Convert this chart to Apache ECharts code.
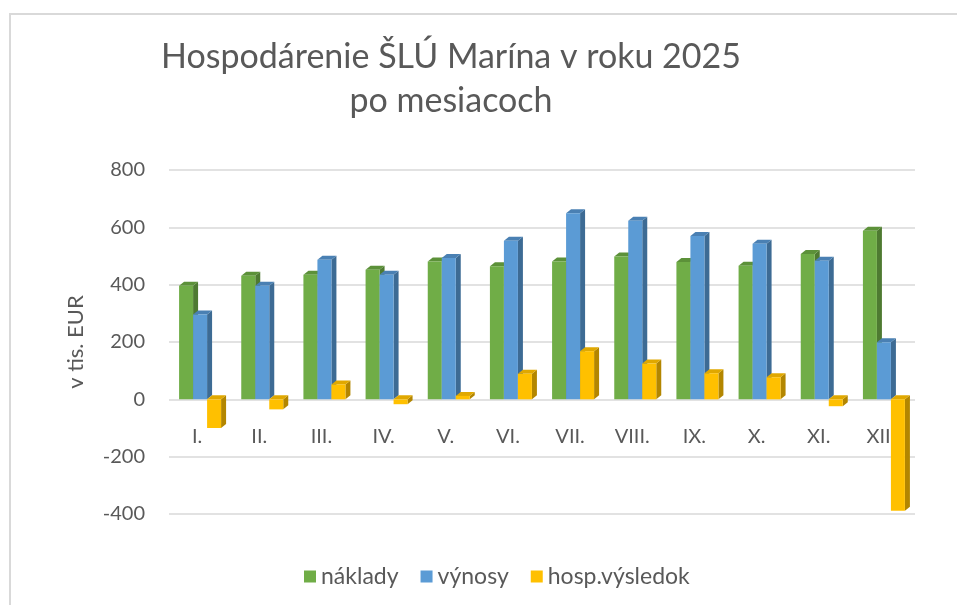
<!DOCTYPE html>
<html>
<head>
<meta charset="utf-8">
<script src="https://cdn.jsdelivr.net/npm/echarts@6/dist/echarts.min.js"></script>
<style>
  html, body { margin: 0; padding: 0; background: #fff; }
  #chart { width: 957px; height: 605px; }
</style>
</head>
<body>
<div id="chart"></div>
<script>
const months = ['I.', 'II.', 'III.', 'IV.', 'V.', 'VI.', 'VII.', 'VIII.', 'IX.', 'X.', 'XI.', 'XII.']
const naklady = [396, 431, 435, 452, 481, 464, 481, 498, 479, 466, 507, 588]
const vynosy = [296, 396, 487, 435, 493, 553, 649, 623, 570, 543, 483, 199]
const vysledok = [-100, -35, 52, -17, 12, 89, 168, 125, 91, 77, -24, -389]
const yTicks = [-400, -200, 0, 200, 400, 600, 800]

const BAR_W = 14
const DX = 5
const DY = 4

// kvádre ako v Exceli: predná stena, bok a vrch
const makeRender = (slot, front, side, top) => (params, api) => {
  const idx = api.value(0)
  const val = api.value(1)
  const p0 = api.coord([idx, 0])
  const p1 = api.coord([idx, val])
  const x = p0[0] + slot * BAR_W - BAR_W / 2
  const yUp = Math.min(p0[1], p1[1])
  const yDown = Math.max(p0[1], p1[1])
  const h = Math.max(yDown - yUp, 1)
  return {
    type: 'group',
    children: [
      {
        type: 'polygon',
        shape: { points: [[x + BAR_W, yUp], [x + BAR_W + DX, yUp - DY], [x + BAR_W + DX, yUp + h - DY], [x + BAR_W, yUp + h]] },
        style: { fill: side },
      },
      {
        type: 'polygon',
        shape: { points: [[x, yUp], [x + BAR_W, yUp], [x + BAR_W + DX, yUp - DY], [x + DX, yUp - DY]] },
        style: { fill: top },
      },
      {
        type: 'rect',
        shape: { x: x, y: yUp, width: BAR_W, height: h },
        style: { fill: front },
      },
    ],
  }
}

const toData = (arr) => arr.map((v, i) => [i, v])

const GRID_TOP = 170
const GRID_H = 344
// posun osi X na nulovú úroveň
const zeroOffset = -GRID_H * (0 - yTicks[0]) / (yTicks[yTicks.length - 1] - yTicks[0])

const chart = echarts.init(document.getElementById('chart'))
chart.setOption({
  animation: false,
  textStyle: { fontFamily: 'Lato' },
  graphic: [
    {
      type: 'rect',
      shape: { x: 10, y: 14, width: 960, height: 600 },
      style: { fill: 'none', stroke: '#d9d9d9', lineWidth: 2 },
      silent: true,
    },
  ],
  title: {
    text: 'Hospodárenie ŠLÚ Marína v roku 2025\npo mesiacoch',
    left: 446,
    top: 30,
    textAlign: 'center',
    textStyle: {
      fontFamily: 'Lato',
      fontSize: 34,
      fontWeight: 'normal',
      color: '#595959',
      lineHeight: 44,
    },
  },
  legend: {
    top: 560,
    left: 299,
    icon: 'rect',
    itemWidth: 12,
    itemHeight: 12,
    itemGap: 22,
    textStyle: { fontSize: 23, color: '#595959', fontFamily: 'Lato' },
    data: ['náklady', 'výnosy', 'hosp.výsledok'],
  },
  grid: {
    left: 169,
    right: 42,
    top: GRID_TOP,
    height: GRID_H,
  },
  xAxis: {
    type: 'category',
    data: months,
    offset: zeroOffset,
    axisLine: { show: false, onZero: false },
    axisTick: { show: false },
    axisLabel: {
      color: '#595959',
      fontSize: 20,
      margin: 27,
      padding: [0, 6, 0, 0],
    },
  },
  yAxis: {
    type: 'value',
    min: yTicks[0],
    max: yTicks[yTicks.length - 1],
    interval: 200,
    name: 'v tis. EUR',
    nameLocation: 'middle',
    nameGap: 82,
    nameTextStyle: { color: '#595959', fontSize: 22 },
    axisLine: { show: false },
    axisTick: { show: false },
    axisLabel: { color: '#595959', fontSize: 20, margin: 24 },
    splitLine: { lineStyle: { color: '#d9d9d9', width: 1.5 } },
  },
  series: [
    {
      name: 'náklady',
      type: 'custom',
      itemStyle: { color: '#70ad47' },
      renderItem: makeRender(-1, '#70ad47', '#4e7a31', '#5c9139'),
      encode: { x: 0, y: 1 },
      data: toData(naklady),
    },
    {
      name: 'výnosy',
      type: 'custom',
      itemStyle: { color: '#5b9bd5' },
      renderItem: makeRender(0, '#5b9bd5', '#3d6b94', '#4a80b3'),
      encode: { x: 0, y: 1 },
      data: toData(vynosy),
    },
    {
      name: 'hosp.výsledok',
      type: 'custom',
      itemStyle: { color: '#ffc000' },
      renderItem: makeRender(1, '#ffc000', '#b38600', '#e0a800'),
      encode: { x: 0, y: 1 },
      data: toData(vysledok),
    },
  ],
})
</script>
</body>
</html>
